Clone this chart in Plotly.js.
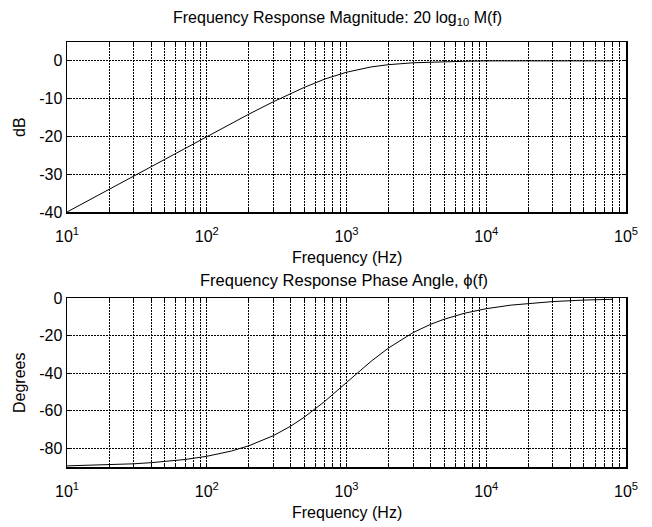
<!DOCTYPE html>
<html>
<head>
<meta charset="utf-8">
<script src="https://cdn.plot.ly/plotly-3.0.1.min.js"></script>
<style>html,body{margin:0;padding:0;background:#fff;}#chart{width:652px;height:527px;}</style>
</head>
<body>
<div id="chart"></div>
<script>
// Frequencies (Hz)
var freq = [10, 15, 20, 30, 40, 50, 70, 100, 150, 200, 300, 400, 500, 700, 1000, 1500, 2000, 3000, 4000, 5000, 7000, 10000, 15000, 20000, 30000, 50000, 80000];
// Magnitude (dB)
var magDb = [-40.0, -36.5, -34.0, -30.5, -28.0, -26.0, -23.1, -20.0, -16.6, -14.1, -10.8, -8.6, -7.0, -4.8, -3.0, -1.6, -1.0, -0.5, -0.3, -0.2, -0.1, 0, 0, 0, 0, 0, 0];
// Phase (degrees)
var phaseDeg = [-89.4, -89.1, -88.9, -88.3, -87.7, -87.1, -86.0, -84.3, -81.5, -78.7, -73.3, -68.2, -63.4, -55.0, -45.0, -33.7, -26.6, -18.4, -14.0, -11.3, -8.1, -5.7, -3.8, -2.9, -1.9, -1.1, -0.7];

var decadeVals = [10, 100, 1000, 10000, 100000];
var decadeText = ['10<sup>1</sup>', '10<sup>2</sup>', '10<sup>3</sup>', '10<sup>4</sup>', '10<sup>5</sup>'];
var magTicks = [0, -10, -20, -30, -40];
var magTickText = ['0', '-10', '-20', '-30', '-40'];
var phaseTicks = [0, -20, -40, -60, -80];
var phaseTickText = ['0', '-20', '-40', '-60', '-80'];

var titleTop = 'Frequency Response Magnitude: 20 log<sub>10</sub> M(f)';
var titleBottom = 'Frequency Response Phase Angle, \u03D5(f)';
var xTitle = 'Frequency (Hz)';
var yTitleTop = 'dB';
var yTitleBottom = 'Degrees';

// gridline positions: 1..9 x each decade
var gridVals = [], gridText = [];
for (var d = 0; d < decadeVals.length; d++) {
  var base = decadeVals[d];
  for (var k = 1; k <= 9; k++) {
    var v = base * k;
    if (v > 100000) break;
    gridVals.push(v);
    gridText.push(k === 1 ? decadeText[d] : '');
  }
}

var FONT = 'Liberation Sans, Arial, sans-serif';
var H = 527, L = 67, R = 626;
function py(px) { return 1 - px / H; }
function pxX(px) { return (px - L) / (R - L); }

function xaxis(anchor) {
  return {
    type: 'log', range: [1, 5], anchor: anchor,
    tickmode: 'array', tickvals: gridVals, ticktext: gridText,
    ticks: 'inside', ticklen: 4, tickcolor: '#000', tickwidth: 1,
    ticklabelstandoff: 9,
    showgrid: true, gridcolor: '#000', griddash: '2px,1px', gridwidth: 1,
    showline: true, linecolor: '#000', linewidth: 1.5, mirror: 'ticks',
    zeroline: false,
    tickfont: {family: FONT, size: 16, color: '#000'}
  };
}
function yaxis(anchor, rng, tv, tt, dom) {
  return {
    range: rng, anchor: anchor, domain: dom,
    tickmode: 'array', tickvals: tv, ticktext: tt,
    ticks: 'inside', ticklen: 4, tickcolor: '#000', tickwidth: 1,
    showgrid: true, gridcolor: '#000', griddash: '2px,1px', gridwidth: 1,
    showline: true, linecolor: '#000', linewidth: 1.5, mirror: 'ticks',
    zeroline: false,
    tickfont: {family: FONT, size: 16, color: '#000'}
  };
}

var traces = [
  {x: freq, y: magDb, xaxis: 'x', yaxis: 'y', type: 'scatter', mode: 'lines', line: {color: '#000', width: 1}},
  {x: freq, y: phaseDeg, xaxis: 'x2', yaxis: 'y2', type: 'scatter', mode: 'lines', line: {color: '#000', width: 1}}
];

function ann(text, x, y, angle, size) {
  return {text: text, xref: 'paper', yref: 'paper', x: x, y: y, xanchor: 'center', yanchor: 'middle',
          textangle: angle || 0, showarrow: false, font: {family: FONT, size: size || 16, color: '#000'}};
}

var layout = {
  width: 652, height: 527,
  margin: {l: L, r: 652 - R, t: 0, b: 0},
  paper_bgcolor: '#fff', plot_bgcolor: '#fff',
  showlegend: false,
  xaxis: xaxis('y'),
  yaxis: yaxis('x', [-40, 5], magTicks, magTickText, [py(212), py(42)]),
  xaxis2: xaxis('y2'),
  yaxis2: yaxis('x2', [-90, 0], phaseTicks, phaseTickText, [py(467), py(298)]),
  annotations: [
    ann(titleTop, pxX(337), py(18)),
    ann(titleBottom, pxX(343.5), py(280), 0, 16.5),
    ann(xTitle, 0.5, py(257)),
    ann(xTitle, 0.5, py(512)),
    ann(yTitleTop, pxX(20), py(127), -90),
    ann(yTitleBottom, pxX(19), py(383), -90)
  ]
};

Plotly.newPlot('chart', traces, layout, {staticPlot: true, displayModeBar: false});
</script>
</body>
</html>
